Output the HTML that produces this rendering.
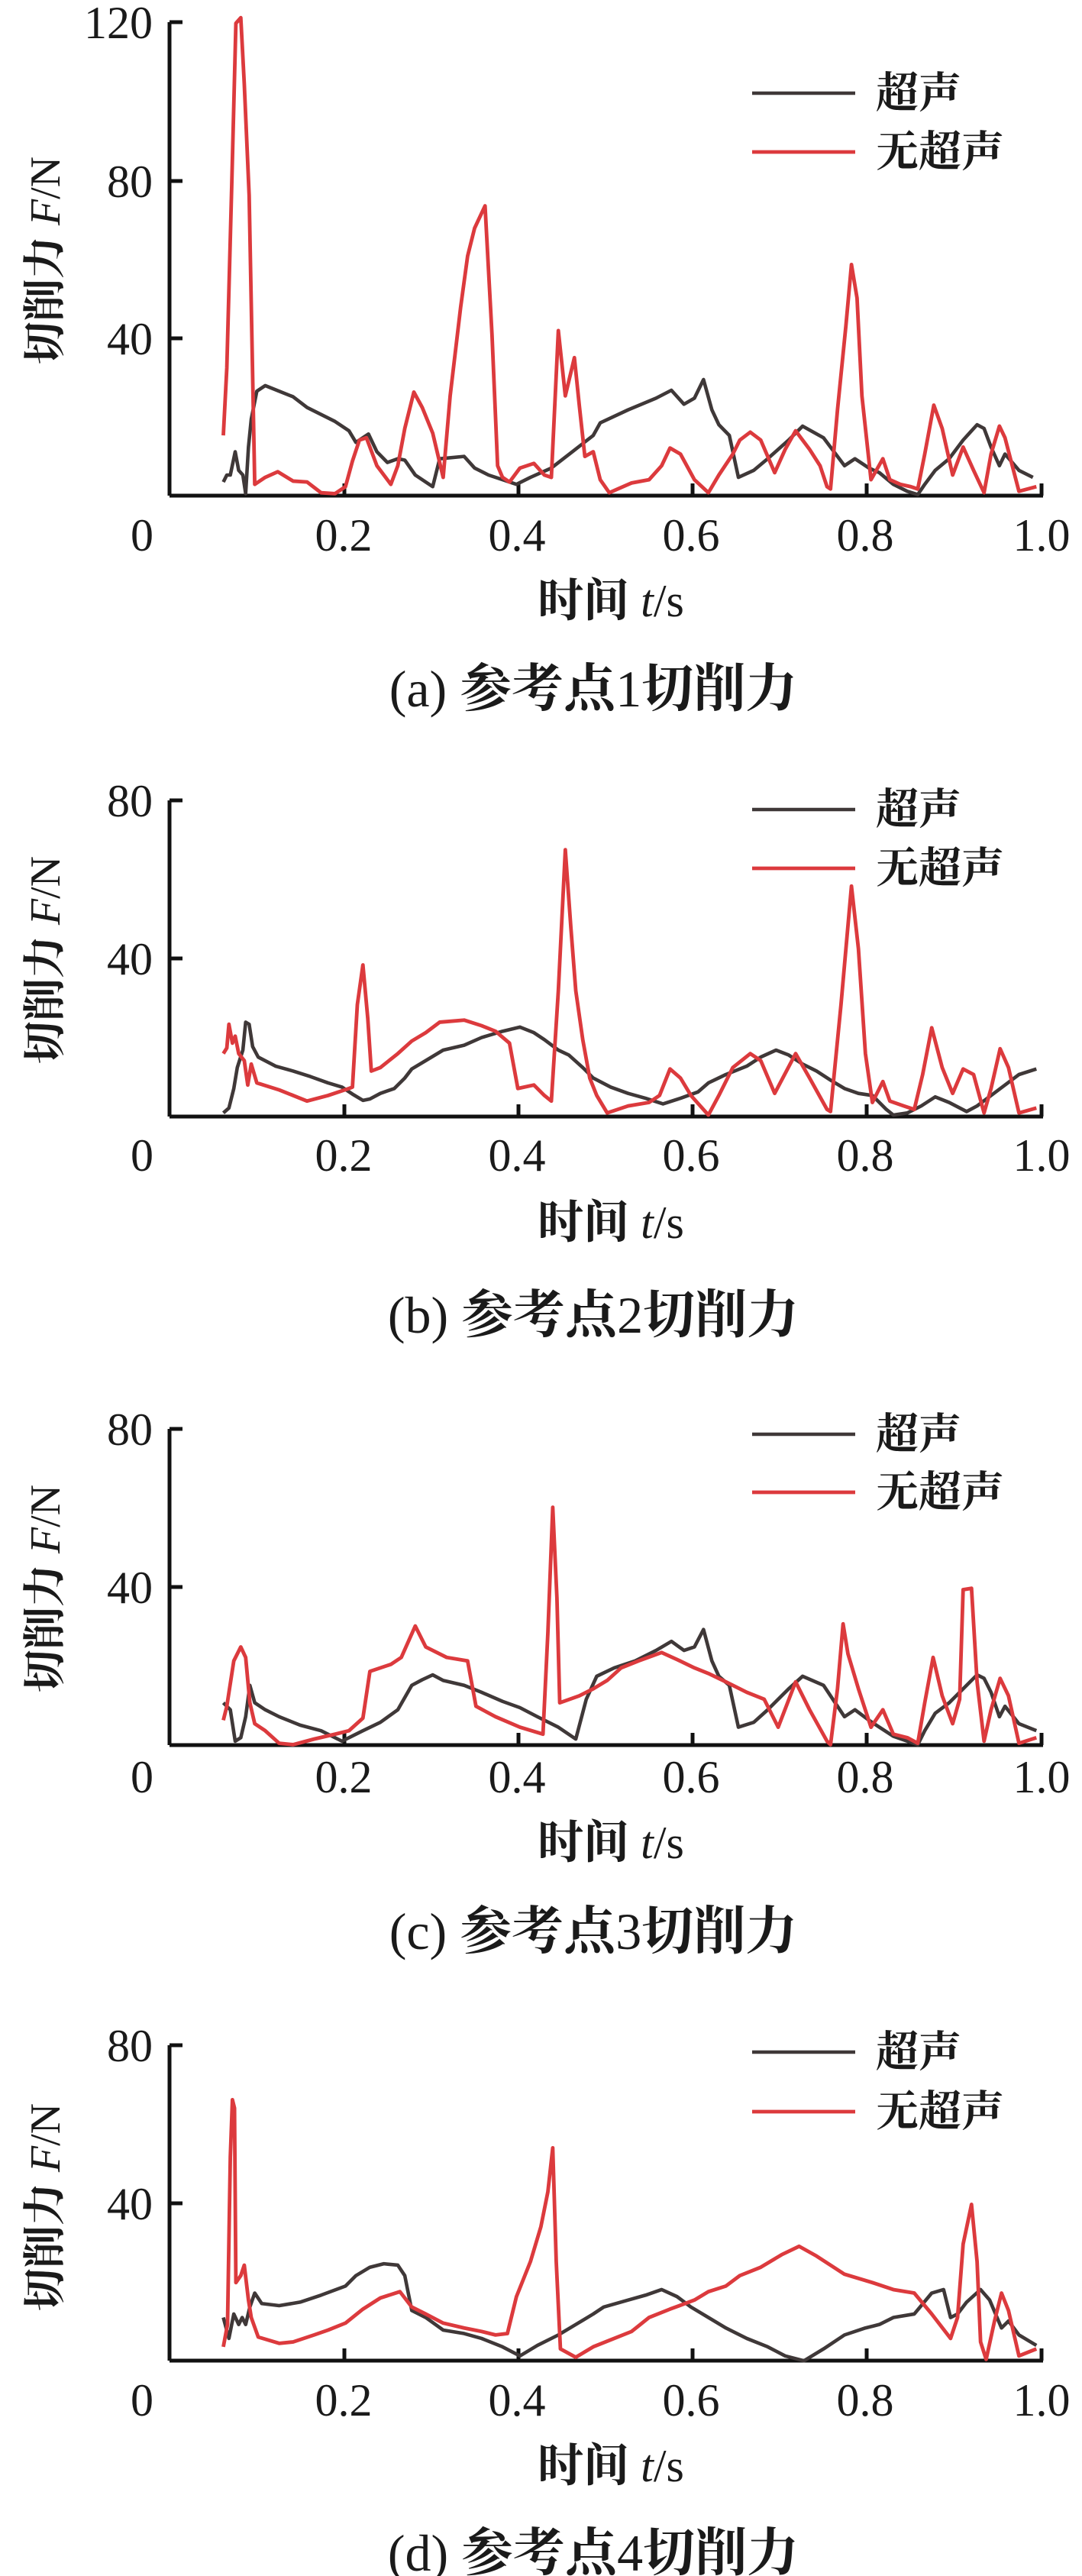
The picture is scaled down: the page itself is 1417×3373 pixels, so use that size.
<!DOCTYPE html>
<html><head><meta charset="utf-8"><style>
html,body{margin:0;padding:0;background:#fff}
svg{display:block}
text{font-family:"Liberation Serif","Noto Serif CJK SC",serif;fill:#1a1a1a}
.cn{font-family:"Liberation Serif","Noto Serif CJK SC","Noto Sans CJK SC",serif;font-weight:bold}
.n{font-weight:normal}
.k{fill:none;stroke:#3f3838;stroke-width:4.6;stroke-linejoin:round}
.r{fill:none;stroke:#dc3a3d;stroke-width:4.8;stroke-linejoin:round}
.ax{stroke:#111;stroke-width:5;fill:none}
</style></head><body>
<svg width="1417" height="3373" viewBox="0 0 1417 3373" xmlns="http://www.w3.org/2000/svg">
<defs>
<g id="xt">
<path class="ax" d="M222,0 H1366 M451,0 v-16 M679,0 v-16 M907,0 v-16 M1135,0 v-16 M1364,0 v-16"/>
</g>
</defs>

<!-- Panel a -->
<path class="ax" d="M222,29 V649 M222,29 h17 M222,237 h17 M222,443 h17"/>
<use href="#xt" y="649"/>
<g font-size="60" text-anchor="end"><text x="200" y="50">120</text><text x="200" y="258">80</text><text x="200" y="464">40</text></g>
<g font-size="60" text-anchor="middle"><text x="186" y="721">0</text><text x="450" y="721">0.2</text><text x="677" y="721">0.4</text><text x="905" y="721">0.6</text><text x="1133" y="721">0.8</text><text x="1364" y="721">1.0</text></g>
<text class="cn" font-size="56" text-anchor="middle" transform="translate(78,341) rotate(-90)">切削力 <tspan class="n" font-style="italic">F</tspan><tspan class="n">/N</tspan></text>
<line x1="985" y1="122" x2="1120" y2="122" class="k"/><line x1="985" y1="199" x2="1120" y2="199" class="r"/>
<text class="cn" x="1147" y="141" font-size="56">超声</text><text class="cn" x="1147" y="218" font-size="56">无超声</text>
<text class="cn" x="800" y="807" font-size="60" text-anchor="middle">时间 <tspan class="n" font-style="italic">t</tspan><tspan class="n">/s</tspan></text>
<text class="cn" x="777" y="925" font-size="68" text-anchor="middle"><tspan class="n">(a) </tspan>参考点<tspan class="n">1</tspan>切削力</text>
<g transform="scale(0.914,0.6098)">
<polyline vector-effect="non-scaling-stroke" class="k" points="320,1035 325,1020 330,1020 337,970 342,1010 348,1020 352,1060 356,960 360,900 368,840 380,828 400,840 420,852 440,875 460,890 480,905 500,925 510,950 520,940 528,932 540,970 555,993 570,985 580,988 595,1020 620,1045 630,985 665,980 680,1005 700,1020 720,1030 740,1040 760,1025 790,1005 820,970 850,935 860,908 900,880 940,855 962,838 980,868 995,855 1008,815 1020,880 1030,912 1045,935 1058,1025 1080,1010 1100,985 1130,945 1150,915 1180,940 1200,980 1210,1000 1225,985 1245,1005 1260,1015 1280,1040 1300,1055 1315,1062 1325,1040 1340,1010 1360,985 1380,945 1400,912 1410,920 1420,960 1432,1000 1440,975 1460,1010 1480,1025"/>
<polyline vector-effect="non-scaling-stroke" class="r" points="320,935 325,790 332,400 338,50 345,38 350,180 357,420 365,1040 380,1025 398,1013 420,1033 440,1035 460,1058 480,1060 495,1045 505,990 515,945 525,940 540,1000 560,1040 570,1000 580,920 593,842 605,875 620,930 635,1025 645,850 660,660 670,550 680,490 695,442 705,720 713,1000 720,1025 730,1035 745,1005 765,995 780,1020 790,1025 800,710 810,850 823,768 830,870 838,980 850,970 860,1030 873,1058 885,1050 905,1037 930,1030 948,1000 960,962 975,975 995,1030 1015,1058 1030,1020 1050,975 1060,945 1075,928 1090,945 1110,1015 1125,965 1140,925 1160,965 1175,1000 1185,1045 1190,1050 1200,880 1212,700 1220,568 1228,640 1235,850 1248,1030 1265,985 1275,1030 1290,1040 1305,1045 1315,1050 1325,975 1338,870 1350,920 1365,1020 1380,960 1395,1010 1410,1058 1420,975 1432,915 1440,940 1460,1055 1485,1045"/>
</g>

<!-- Panel b -->
<path class="ax" d="M222,1048 V1462 M222,1048 h17 M222,1255 h17"/>
<use href="#xt" y="1462"/>
<g font-size="60" text-anchor="end"><text x="200" y="1069">80</text><text x="200" y="1276">40</text></g>
<g font-size="60" text-anchor="middle"><text x="186" y="1533">0</text><text x="450" y="1533">0.2</text><text x="677" y="1533">0.4</text><text x="905" y="1533">0.6</text><text x="1133" y="1533">0.8</text><text x="1364" y="1533">1.0</text></g>
<text class="cn" font-size="56" text-anchor="middle" transform="translate(78,1257) rotate(-90)">切削力 <tspan class="n" font-style="italic">F</tspan><tspan class="n">/N</tspan></text>
<line x1="985" y1="1060" x2="1120" y2="1060" class="k"/><line x1="985" y1="1137" x2="1120" y2="1137" class="r"/>
<text class="cn" x="1147" y="1079" font-size="56">超声</text><text class="cn" x="1147" y="1156" font-size="56">无超声</text>
<text class="cn" x="800" y="1621" font-size="60" text-anchor="middle">时间 <tspan class="n" font-style="italic">t</tspan><tspan class="n">/s</tspan></text>
<text class="cn" x="777" y="1745" font-size="68" text-anchor="middle"><tspan class="n">(b) </tspan>参考点<tspan class="n">2</tspan>切削力</text>
<g transform="translate(0,950) scale(0.914)">
<polyline vector-effect="non-scaling-stroke" class="k" points="320,555 328,548 335,520 340,490 348,465 352,425 357,428 362,460 370,475 395,488 420,495 445,503 470,512 490,518 505,528 520,537 530,535 545,527 565,520 580,505 590,492 610,480 635,465 665,458 690,447 720,438 745,432 765,440 780,450 800,465 815,472 835,490 850,505 875,518 900,527 925,534 950,542 975,534 1000,525 1015,512 1040,500 1070,488 1090,475 1112,465 1130,472 1150,485 1170,495 1190,508 1210,520 1230,527 1250,530 1270,550 1280,558 1300,555 1320,545 1340,532 1360,540 1385,553 1400,545 1420,530 1440,515 1460,500 1485,492"/>
<polyline vector-effect="non-scaling-stroke" class="r" points="320,470 325,462 328,428 333,455 337,445 342,470 350,480 355,515 360,485 368,512 400,522 440,538 470,530 500,520 505,518 512,400 520,343 527,420 532,495 545,490 570,470 590,452 610,440 630,425 665,422 690,430 710,438 730,455 742,520 765,515 780,530 790,538 800,380 810,178 818,290 825,380 835,450 845,505 855,530 870,555 900,545 930,540 945,530 960,492 975,505 990,530 1015,558 1030,530 1050,490 1075,470 1090,480 1110,527 1140,470 1160,505 1185,550 1190,553 1205,400 1220,230 1230,320 1240,470 1250,540 1265,510 1275,538 1295,545 1310,550 1322,500 1335,433 1350,490 1365,527 1380,492 1395,500 1410,555 1420,520 1433,463 1445,490 1460,555 1485,548"/>
</g>

<!-- Panel c -->
<path class="ax" d="M222,1871 V2285 M222,1871 h17 M222,2078 h17"/>
<use href="#xt" y="2285"/>
<g font-size="60" text-anchor="end"><text x="200" y="1892">80</text><text x="200" y="2099">40</text></g>
<g font-size="60" text-anchor="middle"><text x="186" y="2347">0</text><text x="450" y="2347">0.2</text><text x="677" y="2347">0.4</text><text x="905" y="2347">0.6</text><text x="1133" y="2347">0.8</text><text x="1364" y="2347">1.0</text></g>
<text class="cn" font-size="56" text-anchor="middle" transform="translate(78,2080) rotate(-90)">切削力 <tspan class="n" font-style="italic">F</tspan><tspan class="n">/N</tspan></text>
<line x1="985" y1="1878" x2="1120" y2="1878" class="k"/><line x1="985" y1="1954" x2="1120" y2="1954" class="r"/>
<text class="cn" x="1147" y="1897" font-size="56">超声</text><text class="cn" x="1147" y="1973" font-size="56">无超声</text>
<text class="cn" x="800" y="2433" font-size="60" text-anchor="middle">时间 <tspan class="n" font-style="italic">t</tspan><tspan class="n">/s</tspan></text>
<text class="cn" x="777" y="2552" font-size="68" text-anchor="middle"><tspan class="n">(c) </tspan>参考点<tspan class="n">3</tspan>切削力</text>
<g transform="translate(0,950) scale(0.914)">
<polyline vector-effect="non-scaling-stroke" class="k" points="320,1400 330,1410 337,1455 345,1450 352,1420 358,1375 365,1400 380,1410 400,1420 430,1432 460,1440 490,1455 500,1450 520,1440 545,1428 570,1410 590,1375 605,1367 620,1360 635,1368 665,1375 690,1385 720,1398 745,1407 770,1420 800,1435 825,1452 840,1395 855,1362 880,1350 910,1340 940,1325 962,1312 980,1325 995,1320 1008,1295 1020,1340 1030,1362 1045,1375 1058,1435 1080,1428 1100,1410 1130,1380 1150,1362 1180,1375 1200,1405 1210,1420 1225,1410 1245,1425 1260,1435 1280,1448 1300,1455 1315,1460 1325,1440 1340,1415 1360,1400 1380,1380 1400,1360 1410,1365 1420,1385 1432,1420 1440,1405 1460,1430 1485,1440"/>
<polyline vector-effect="non-scaling-stroke" class="r" points="320,1425 325,1405 335,1340 345,1320 352,1335 358,1400 365,1430 380,1440 400,1458 420,1460 450,1452 480,1445 500,1440 520,1422 530,1355 560,1345 575,1335 595,1290 610,1320 640,1335 670,1340 682,1405 710,1420 745,1435 778,1445 785,1300 792,1120 798,1250 802,1400 830,1390 850,1380 870,1368 890,1350 915,1340 948,1328 970,1338 995,1350 1015,1358 1040,1370 1070,1385 1095,1395 1115,1435 1140,1370 1160,1410 1185,1455 1190,1460 1200,1380 1208,1287 1215,1330 1230,1380 1248,1435 1265,1410 1280,1445 1300,1450 1315,1458 1325,1400 1337,1335 1350,1390 1365,1430 1375,1395 1380,1238 1392,1236 1400,1370 1410,1455 1420,1410 1433,1365 1445,1390 1460,1458 1485,1450"/>
</g>

<!-- Panel d -->
<path class="ax" d="M222,2678 V3091 M222,2678 h17 M222,2885 h17"/>
<use href="#xt" y="3091"/>
<g font-size="60" text-anchor="end"><text x="200" y="2699">80</text><text x="200" y="2906">40</text></g>
<g font-size="60" text-anchor="middle"><text x="186" y="3163">0</text><text x="450" y="3163">0.2</text><text x="677" y="3163">0.4</text><text x="905" y="3163">0.6</text><text x="1133" y="3163">0.8</text><text x="1364" y="3163">1.0</text></g>
<text class="cn" font-size="56" text-anchor="middle" transform="translate(78,2890) rotate(-90)">切削力 <tspan class="n" font-style="italic">F</tspan><tspan class="n">/N</tspan></text>
<line x1="985" y1="2687" x2="1120" y2="2687" class="k"/><line x1="985" y1="2765" x2="1120" y2="2765" class="r"/>
<text class="cn" x="1147" y="2706" font-size="56">超声</text><text class="cn" x="1147" y="2784" font-size="56">无超声</text>
<text class="cn" x="800" y="3249" font-size="60" text-anchor="middle">时间 <tspan class="n" font-style="italic">t</tspan><tspan class="n">/s</tspan></text>
<text class="cn" x="777" y="3366" font-size="68" text-anchor="middle"><tspan class="n">(d) </tspan>参考点<tspan class="n">4</tspan>切削力</text>
<g transform="translate(0,1956) scale(0.914)">
<polyline vector-effect="non-scaling-stroke" class="k" points="320,1180 328,1210 335,1175 342,1190 347,1180 352,1190 358,1165 365,1145 375,1160 400,1163 430,1158 460,1148 495,1135 510,1120 530,1108 550,1103 570,1105 580,1120 585,1145 590,1170 610,1180 635,1198 665,1203 690,1210 720,1222 745,1235 770,1220 800,1205 825,1190 850,1175 865,1165 900,1155 925,1148 948,1140 970,1150 990,1165 1015,1180 1040,1195 1070,1210 1100,1222 1125,1235 1152,1242 1180,1225 1210,1205 1240,1195 1260,1190 1280,1180 1310,1175 1335,1145 1352,1140 1362,1180 1372,1175 1385,1158 1405,1140 1418,1155 1435,1195 1445,1185 1460,1205 1485,1220"/>
<polyline vector-effect="non-scaling-stroke" class="r" points="320,1222 326,1190 330,950 333,868 336,880 338,1130 345,1120 350,1105 356,1155 360,1180 370,1208 400,1217 420,1215 450,1205 470,1198 495,1188 520,1168 545,1152 573,1143 590,1165 610,1175 635,1188 665,1195 690,1200 710,1205 727,1203 740,1150 760,1100 775,1050 785,1000 792,937 797,1100 803,1225 825,1237 850,1222 875,1212 905,1200 930,1180 960,1168 995,1155 1015,1143 1040,1135 1060,1120 1090,1108 1120,1090 1145,1078 1170,1092 1210,1118 1250,1130 1280,1140 1310,1145 1335,1175 1362,1210 1372,1180 1380,1075 1392,1018 1400,1100 1405,1215 1413,1240 1425,1185 1435,1145 1445,1170 1460,1235 1485,1225"/>
</g>
</svg>
</body></html>
